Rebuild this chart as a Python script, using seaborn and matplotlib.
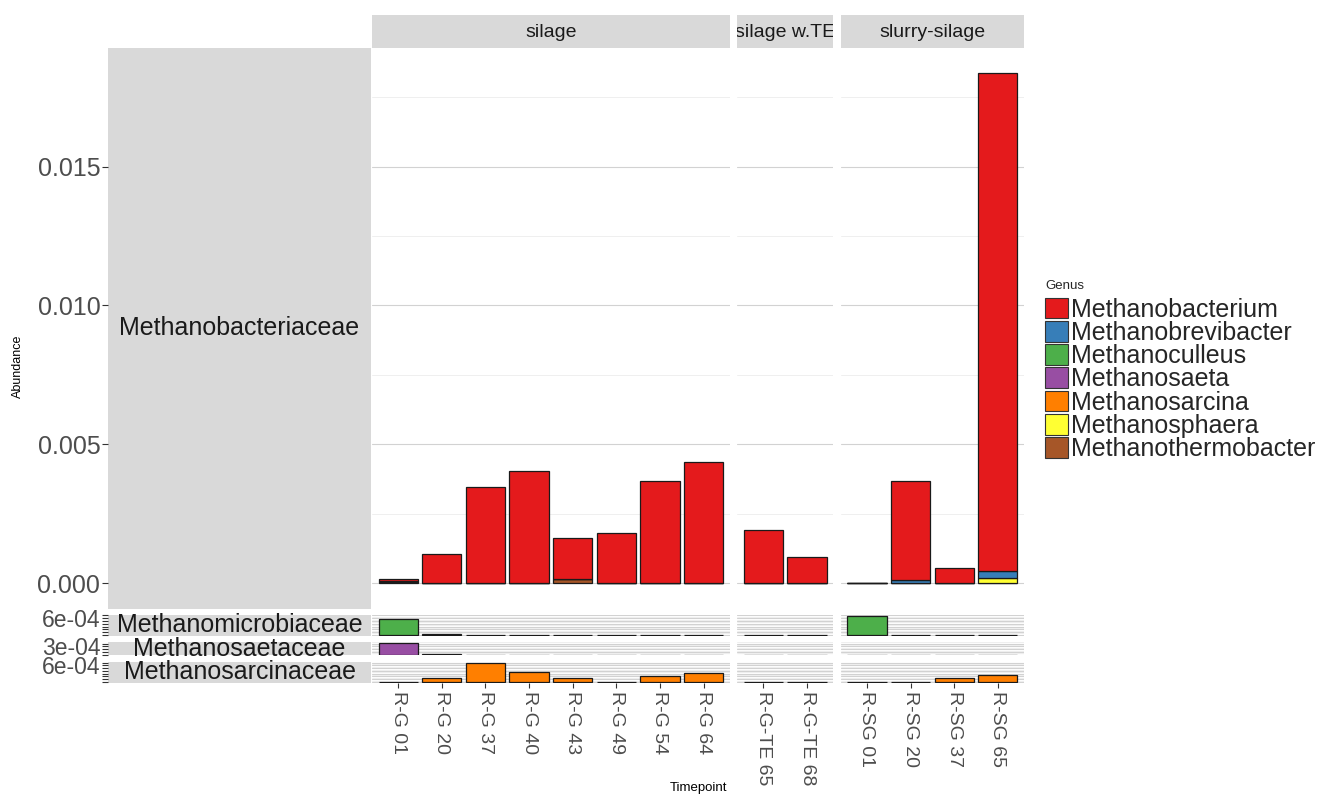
import numpy as np
import pandas as pd
import matplotlib
matplotlib.use("Agg")
import matplotlib.pyplot as plt
import seaborn as sns
from matplotlib.patches import Patch

sns.set_theme(style="white")
plt.rcParams['font.family'] = ['Liberation Sans', 'DejaVu Sans']

# ---------------- data ----------------
experiments = ["silage", "silage w.TE", "slurry-silage"]
samples = ["R-G 01", "R-G 20", "R-G 37", "R-G 40", "R-G 43", "R-G 49", "R-G 54", "R-G 64",
           "R-G-TE 65", "R-G-TE 68",
           "R-SG 01", "R-SG 20", "R-SG 37", "R-SG 65"]
sample_experiment = ["silage"] * 8 + ["silage w.TE"] * 2 + ["slurry-silage"] * 4

families = ["Methanobacteriaceae", "Methanomicrobiaceae", "Methanosaetaceae", "Methanosarcinaceae"]
genera = ["Methanobacterium", "Methanobrevibacter", "Methanoculleus", "Methanosaeta",
          "Methanosarcina", "Methanosphaera", "Methanothermobacter"]
genus_family = ["Methanobacteriaceae", "Methanobacteriaceae", "Methanomicrobiaceae",
                "Methanosaetaceae", "Methanosarcinaceae", "Methanobacteriaceae",
                "Methanobacteriaceae"]
colors = ["#E41A1C", "#377EB8", "#4DAF4A", "#984EA3", "#FF7F00", "#FFFF33", "#A65628"]

methanobacterium = [0.00007, 0.00105, 0.00346, 0.00404, 0.00147, 0.00180, 0.00368, 0.00436,
                    0.00191, 0.00093,
                    0.00001, 0.00358, 0.00053, 0.01791]
methanobrevibacter = [0.00004, 0, 0, 0, 0, 0, 0, 0,
                      0, 0,
                      0, 0.00010, 0, 0.00027]
methanoculleus = [0.00057, 0.00004, 0, 0, 0, 0, 0, 0,
                  0, 0,
                  0.00068, 0, 0, 0]
methanosaeta = [0.00043, 0.00003, 0, 0, 0, 0, 0, 0,
                0, 0,
                0, 0, 0, 0]
methanosarcina = [0, 0.00013, 0.00069, 0.00035, 0.00016, 0, 0.00021, 0.00033,
                  0, 0,
                  0, 0, 0.00013, 0.00026]
methanosphaera = [0, 0, 0, 0, 0, 0, 0, 0,
                  0, 0,
                  0, 0, 0, 0.00017]
methanothermobacter = [0.00003, 0, 0, 0, 0.00014, 0, 0, 0,
                       0, 0,
                       0, 0, 0, 0]

# y tick values per family row, and the single label shown
main_ticks = [0.0, 0.005, 0.010, 0.015]
main_tick_labels = ["0.000", "0.005", "0.010", "0.015"]
small_tick_step = 1e-4
small_label_value = {"Methanomicrobiaceae": 6e-4, "Methanosaetaceae": 3e-4,
                     "Methanosarcinaceae": 6e-4}
small_label_text = {"Methanomicrobiaceae": "6e-04", "Methanosaetaceae": "3e-04",
                    "Methanosarcinaceae": "6e-04"}

values = [methanobacterium, methanobrevibacter, methanoculleus, methanosaeta,
          methanosarcina, methanosphaera, methanothermobacter]
rows = []
for g, fam, vals in zip(genera, genus_family, values):
    for s, e, v in zip(samples, sample_experiment, vals):
        rows.append(dict(Timepoint=s, Experiment=e, Genus=g, Family=fam, Abundance=v))
df = pd.DataFrame(rows)
palette = dict(zip(genera, colors))

# ---------------- layout ----------------
W, H = 1322, 796
fig = plt.figure(figsize=(W / 100, H / 100), dpi=100)


def add_ax(x0, y0, x1, y1, **kw):
    return fig.add_axes([x0 / W, 1 - y1 / H, (x1 - x0) / W, (y1 - y0) / H], **kw)


totals = df.groupby(["Family", "Timepoint"])["Abundance"].sum()
ymax = {f: totals[f].max() for f in families}
yranges = {f: 1.1 * ymax[f] for f in families}

top_px, bot_px, vgap = 48, 683, 6.5
avail = bot_px - top_px - vgap * (len(families) - 1)
tot_range = sum(yranges.values())
row_ext = {}
cur = top_px
for f in families:
    h = avail * yranges[f] / tot_range
    row_ext[f] = (cur, cur + h)
    cur += h + vgap

left_px, right_px, hgap = 372, 1024, 7.5
n_per = {e: sample_experiment.count(e) for e in experiments}
units = {e: n_per[e] + 0.2 for e in experiments}
upx = (right_px - left_px - hgap * (len(experiments) - 1)) / sum(units.values())
col_ext = {}
cur = left_px
for e in experiments:
    w = units[e] * upx
    col_ext[e] = (cur, cur + w)
    cur += w + hgap

strip_bg = "#d9d9d9"
major_grid = "#d2d2d2"
minor_grid = "#ececec"

for fi, fam in enumerate(families):
    y0, y1 = row_ext[fam]
    ylim = (-0.05 * ymax[fam], 1.05 * ymax[fam])
    genera_here = [g for g, f in zip(genera, genus_family) if f == fam]
    if fam == families[0]:
        majors = main_ticks
        minors = list(np.arange(0.0025, ylim[1], 0.005))
    else:
        majors = list(np.arange(0, ylim[1], small_tick_step))
        minors = list(np.arange(small_tick_step / 2, ylim[1], small_tick_step))
    for e in experiments:
        x0, x1 = col_ext[e]
        ax = add_ax(x0, y0, x1, y1)
        sub = df[(df.Family == fam) & (df.Experiment == e)]
        sns.histplot(data=sub, x="Timepoint", weights="Abundance", hue="Genus",
                     hue_order=genera_here, multiple="stack", discrete=True, shrink=0.9,
                     palette=palette, edgecolor="#1a1a1a", linewidth=0.9, alpha=1,
                     legend=False, ax=ax)
        n = n_per[e]
        ax.set_xlim(-0.6, n - 1 + 0.6)
        ax.set_ylim(*ylim)
        ax.set_yticks(majors)
        ax.set_yticks(minors, minor=True)
        ax.set_yticklabels([])
        ax.tick_params(axis="y", which="both", length=0)
        ax.grid(False)
        ax.grid(True, axis="y", which="major", color=major_grid, lw=0.8)
        ax.grid(True, axis="y", which="minor", color=minor_grid, lw=0.6)
        ax.set_axisbelow(True)
        for sp in ax.spines.values():
            sp.set_visible(False)
        ax.set_xlabel("")
        ax.set_ylabel("")
        if fi == len(families) - 1:
            labs = [s for s, ee in zip(samples, sample_experiment) if ee == e]
            ax.set_xticks(range(n))
            ax.set_xticklabels(labs, rotation=-90, fontsize=14, color="#4d4d4d")
            ax.tick_params(axis="x", length=3.5, width=0.8, color="#333333", pad=2,
                           direction="out", bottom=True)
        else:
            ax.set_xticks([])
    # row strip + y axis
    sax = add_ax(108, y0, 371, y1, facecolor=strip_bg)
    sax.set_ylim(*ylim)
    sax.set_xticks([])
    for sp in sax.spines.values():
        sp.set_visible(False)
    sax.grid(False)
    if fam == families[0]:
        sax.set_yticks(main_ticks)
        sax.set_yticklabels(main_tick_labels)
        lsize = 18
    else:
        sax.set_yticks(majors)
        lab_val = small_label_value[fam]
        sax.set_yticklabels([small_label_text[fam] if abs(t - lab_val) < 1e-9 else ""
                             for t in majors])
        lsize = 16.5
    sax.tick_params(axis="y", left=True, length=4, width=0.8, color="#333333",
                    labelsize=lsize, labelcolor="#4d4d4d", pad=1.5, direction="out")

# row strip texts (drawn on top)
for fam in families:
    y0, y1 = row_ext[fam]
    fig.text((108 + 371) / 2 / W, 1 - (y0 + y1) / 2 / H, fam, ha="center", va="center",
             fontsize=18, color="#1a1a1a")

# column strips
for e in experiments:
    x0, x1 = col_ext[e]
    cax = add_ax(x0, 15, x1, 48, facecolor=strip_bg)
    cax.set_xticks([])
    cax.set_yticks([])
    for sp in cax.spines.values():
        sp.set_visible(False)
    cax.text(0.5, 0.47, e, transform=cax.transAxes, ha="center", va="center",
             fontsize=14, color="#1a1a1a", clip_on=True)

# axis titles
fig.text(18 / W, 1 - 366 / H, "Abundance", rotation=90, ha="center", va="center",
         fontsize=9, color="black")
fig.text(698 / W, 1 - 788 / H, "Timepoint", ha="center", va="center",
         fontsize=9.5, color="black")

# legend
handles = [Patch(facecolor=c, edgecolor="#333333", linewidth=0.8) for c in colors]
leg = fig.legend(handles, genera, loc="upper left", bbox_to_anchor=(1045 / W, 1 - 280 / H),
                 title="Genus", frameon=False, fontsize=18, title_fontsize=9.5,
                 handlelength=0.9, handleheight=0.9, handletextpad=0.15,
                 labelspacing=-0.03, borderpad=0, borderaxespad=0, alignment="left")
leg._legend_box.sep = 4

fig.savefig("out.png", dpi=100)
